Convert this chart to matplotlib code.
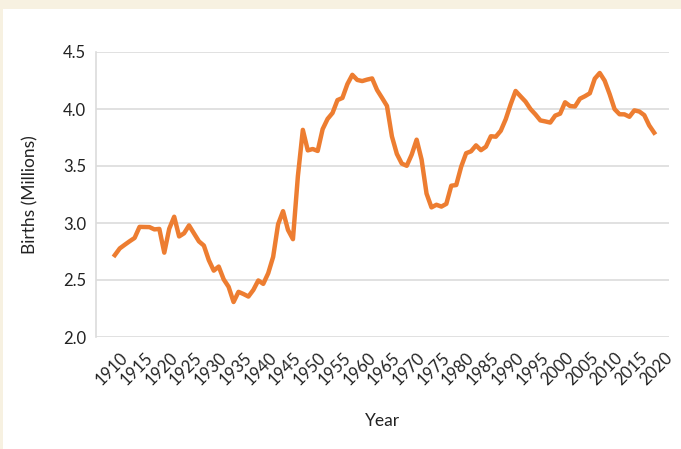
import matplotlib
matplotlib.use("Agg")
import matplotlib.pyplot as plt
from matplotlib.patches import Rectangle

# Nascimentos nos EUA (milhões), 1909-2018
anos = list(range(1909, 2019))
nascimentos = [
    2.718, 2.777, 2.809, 2.840, 2.869, 2.966, 2.965, 2.964, 2.944, 2.948,
    2.740, 2.950, 3.055, 2.882, 2.910, 2.979, 2.909, 2.839, 2.802, 2.674,
    2.582, 2.618, 2.506, 2.440, 2.307, 2.396, 2.377, 2.355, 2.413, 2.496,
    2.466, 2.559, 2.703, 2.989, 3.104, 2.939, 2.858, 3.411, 3.817, 3.637,
    3.649, 3.632, 3.823, 3.913, 3.965, 4.078, 4.097, 4.218, 4.300, 4.255,
    4.245, 4.258, 4.268, 4.167, 4.098, 4.027, 3.760, 3.606, 3.521, 3.502,
    3.600, 3.731, 3.556, 3.258, 3.137, 3.160, 3.144, 3.168, 3.327, 3.333,
    3.494, 3.612, 3.629, 3.681, 3.639, 3.669, 3.761, 3.757, 3.809, 3.910,
    4.041, 4.158, 4.111, 4.065, 4.000, 3.953, 3.900, 3.891, 3.881, 3.942,
    3.959, 4.059, 4.026, 4.022, 4.090, 4.112, 4.138, 4.266, 4.316, 4.248,
    4.131, 3.999, 3.954, 3.953, 3.932, 3.988, 3.978, 3.946, 3.856, 3.792,
]
anos_ticks = list(range(1910, 2021, 5))
y_ticks = [2.0, 2.5, 3.0, 3.5, 4.0, 4.5]

plt.rcParams['font.family'] = ['Lato', 'DejaVu Sans']

fig = plt.figure(figsize=(6.81, 4.49), dpi=100)
fig.patch.set_facecolor('#f7f1e1')
# painel branco atrás dos eixos
painel = Rectangle((3 / 681, 0), 1, 1 - 9 / 449, transform=fig.transFigure,
                   facecolor='white', edgecolor='none', zorder=-10)
fig.add_artist(painel)

ax = fig.add_axes([96 / 681, 1 - 337 / 449, 573 / 681, 285 / 449])
ax.set_facecolor('white')
ax.plot(anos, nascimentos, color='#ed7d31', linewidth=3.2, solid_joinstyle='round', zorder=3)

ax.set_xlim(1905.2, 2021.0)
ax.set_ylim(2.0, 4.5)
ax.set_yticks(y_ticks)
ax.set_yticklabels([f"{v:.1f}" for v in y_ticks])
ax.set_xticks(anos_ticks)
ax.set_xticklabels([str(a) for a in anos_ticks], rotation=45, ha='right',
                   rotation_mode='anchor')
ax.tick_params(length=0, labelsize=12, colors='#222222', pad=7)
ax.tick_params(axis='x', pad=9)

ax.grid(axis='y', color='#dcdcdc', linewidth=1.2, zorder=1)
for lado in ['top', 'right', 'bottom']:
    ax.spines[lado].set_visible(False)
ax.spines['left'].set_color('#dcdcdc')
ax.spines['left'].set_linewidth(1.2)

ax.set_ylabel("Births (Millions)", fontsize=12.5, color='#222222', labelpad=18)
ax.set_xlabel("Year", fontsize=12.5, color='#222222', labelpad=18)

fig.savefig("out.png", dpi=100, facecolor=fig.get_facecolor())
